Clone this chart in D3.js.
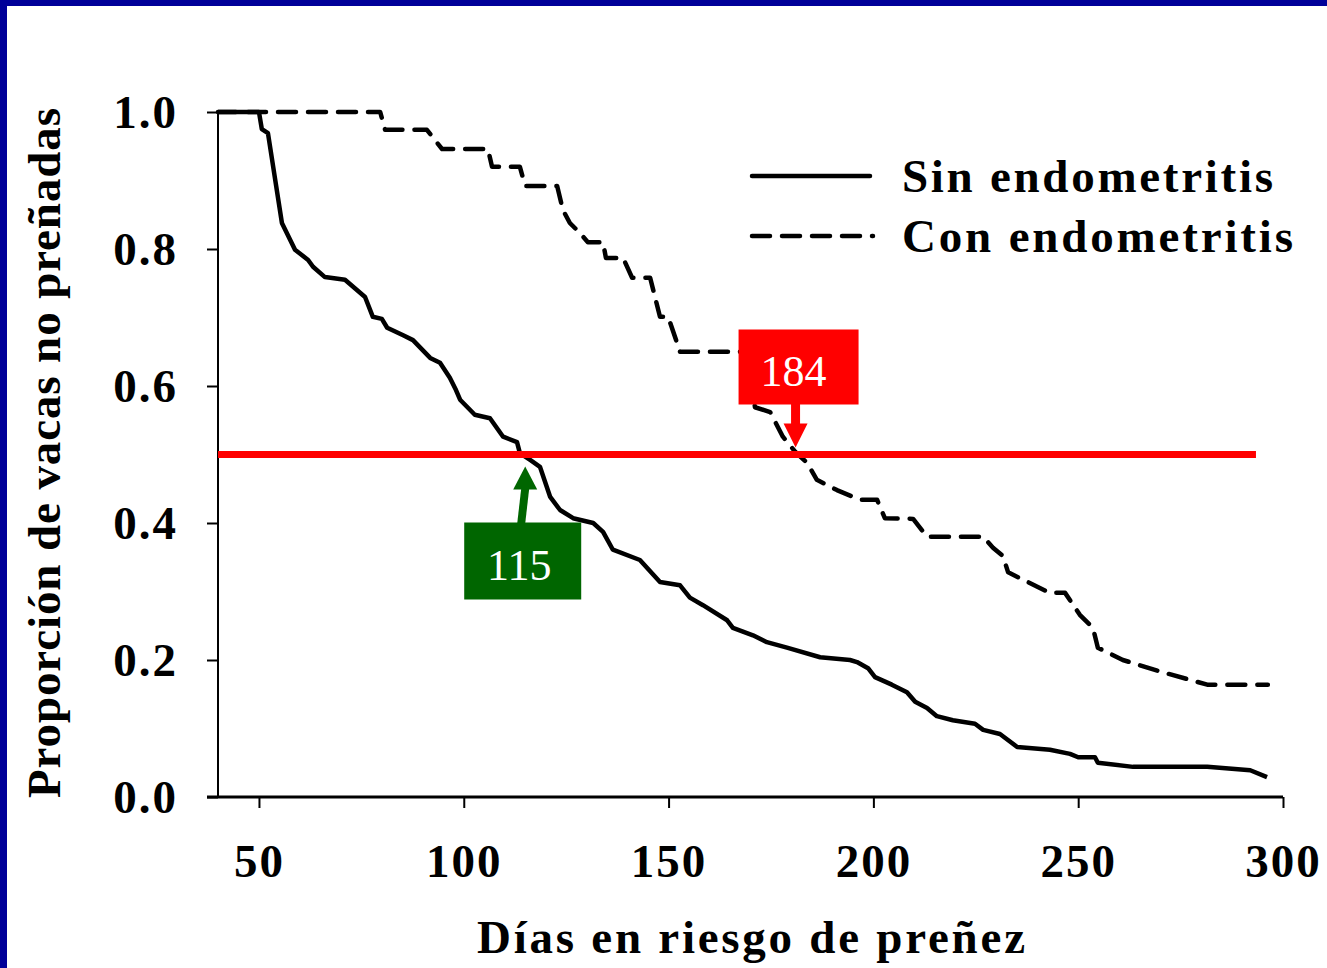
<!DOCTYPE html>
<html lang="es">
<head>
<meta charset="UTF-8" />
<title>Proporción de vacas no preñadas</title>
<script src="https://d3js.org/d3.v7.js"></script>
<style>
    body { margin: 0; background: #fff; }
    svg { display: block; }
    text { font-family: "Liberation Serif", "Times New Roman", serif; }
</style>
</head>
<body>
<script>
    var w = 1327;
    var h = 968;

    // Sin endometritis (solid line)
    var sinDias = [40, 50, 50.7, 52.2, 55.6, 58.8, 62, 63.2, 66.1, 71, 75.9, 77.8, 80, 81.3, 85.2, 87.6,
        91.8, 94.2, 96.6, 98.1, 99.1, 102.7, 106.4, 109.6, 113, 113.7, 116.2, 118.6, 121.1, 123.5, 126.7,
        131.6, 134, 136.4, 143, 147.9, 152.8, 155.2, 158.4, 164.3, 165.7, 170.6, 174, 178.9, 187, 194.3,
        196, 198.7, 200.4, 204.5, 208.2, 210.2, 213.1, 215.5, 219.4, 224.8, 226.8, 230.9, 235.1, 243.1,
        248, 250, 254.1, 254.8, 263.4, 281.5, 292, 296.1];
    var sinProp = [1.0, 1.0, 0.975, 0.969, 0.838, 0.799, 0.784, 0.774, 0.759, 0.755, 0.730, 0.701, 0.698, 0.685, 0.674, 0.667,
        0.641, 0.634, 0.612, 0.594, 0.580, 0.558, 0.553, 0.526, 0.518, 0.502, 0.492, 0.482, 0.438, 0.419, 0.407,
        0.400, 0.387, 0.361, 0.346, 0.314, 0.309, 0.291, 0.280, 0.258, 0.247, 0.236, 0.226, 0.218, 0.204, 0.200,
        0.197, 0.188, 0.175, 0.164, 0.153, 0.139, 0.130, 0.118, 0.112, 0.107, 0.098, 0.092, 0.073, 0.069,
        0.063, 0.058, 0.058, 0.050, 0.044, 0.044, 0.039, 0.029];

    // Con endometritis (dashed line)
    var conDias = [40, 79.6, 80.8, 91, 93.5, 94.7, 105.9, 106.9, 113.7, 115, 122.8, 124.2, 125.9, 128.4, 130.3,
        134, 134.7, 138.9, 141.1, 145.5, 147.9, 149.9, 152.8, 168.7, 171.1, 174.8, 177.9, 180.9, 183.8, 186.2,
        191.1, 196.7, 200.9, 202.8, 209.7, 213.1, 226.8, 229.2, 231.6, 232.9, 243.1, 246.8, 250.4, 253.6,
        254.8, 260.9, 270.7, 281.5, 296.3];
    var conProp = [1.0, 1.0, 0.974, 0.974, 0.955, 0.946, 0.946, 0.920, 0.920, 0.892, 0.892, 0.857, 0.838, 0.823, 0.810,
        0.810, 0.787, 0.787, 0.758, 0.758, 0.701, 0.701, 0.650, 0.650, 0.569, 0.562, 0.526, 0.504, 0.488, 0.463,
        0.448, 0.434, 0.434, 0.407, 0.406, 0.380, 0.380, 0.364, 0.352, 0.328, 0.298, 0.298, 0.266, 0.247,
        0.218, 0.200, 0.182, 0.164, 0.164];

    var xTicks = [50, 100, 150, 200, 250, 300];
    var yTicks = [0, 0.2, 0.4, 0.6, 0.8, 1.0];

    // median line and the two labelled arrows
    var medianProp = 0.5;
    var medianDias = [40, 293.4];
    var annotDias = [115, 181];
    var annotLabels = ["115", "184"];

    var svg = d3.select("body")
                .append("svg")
                .attr("width", w)
                .attr("height", h);

    // blue frame on top and left
    svg.append("rect").attr("x", 0).attr("y", 0).attr("width", w).attr("height", 6).attr("fill", "#000099");
    svg.append("rect").attr("x", 0).attr("y", 0).attr("width", 7).attr("height", h).attr("fill", "#000099");

    var xScale = d3.scaleLinear()
        .domain([40, 300])
        .range([218, 1283]);

    var yScale = d3.scaleLinear()
        .domain([0, 1])
        .range([797, 112]);

    // y axis
    var yAxis = d3.axisLeft(yScale)
        .tickValues(yTicks)
        .tickSize(11)
        .tickFormat(d3.format(".1f"));
    var gy = svg.append("g")
        .attr("transform", "translate(" + xScale(40) + ",0)")
        .call(yAxis);
    gy.select(".domain").attr("stroke-width", 2).attr("d", "M0," + yScale(1) + "V" + yScale(0));
    gy.selectAll(".tick line").attr("stroke-width", 2);
    gy.selectAll(".tick text")
        .attr("x", -40)
        .attr("dy", "0.34em")
        .style("font-size", "47px")
        .style("font-weight", "bold")
        .style("letter-spacing", "2px")
        .attr("fill", "#000");

    // x axis
    var xAxis = d3.axisBottom(xScale)
        .tickValues(xTicks)
        .tickSize(11);
    var gx = svg.append("g")
        .attr("transform", "translate(0," + yScale(0) + ")")
        .call(xAxis);
    gx.select(".domain").attr("stroke-width", 3).attr("d", "M" + (xScale(40) - 11) + ",0H" + xScale(300));
    gx.selectAll(".tick line").attr("stroke-width", 2);
    gx.selectAll(".tick text")
        .attr("y", 80)
        .attr("dy", 0)
        .style("font-size", "47px")
        .style("font-weight", "bold")
        .style("letter-spacing", "2px")
        .attr("fill", "#000");

    // axis titles
    svg.append("text")
        .attr("x", 751)
        .attr("y", 953)
        .attr("text-anchor", "middle")
        .attr("textLength", 548)
        .attr("lengthAdjust", "spacing")
        .style("font-size", "47px")
        .style("font-weight", "bold")
        .text("Días en riesgo de preñez");

    svg.append("text")
        .attr("transform", "translate(60,453) rotate(-90)")
        .attr("text-anchor", "middle")
        .attr("textLength", 690)
        .attr("lengthAdjust", "spacing")
        .style("font-size", "47px")
        .style("font-weight", "bold")
        .text("Proporción de vacas no preñadas");

    var line = d3.line()
        .x(function(d){ return xScale(d[0]); })
        .y(function(d){ return yScale(d[1]); });

    var sinData = sinDias.map(function(d, i){ return [d, sinProp[i]]; });
    var conData = conDias.map(function(d, i){ return [d, conProp[i]]; });

    svg.append("path")
        .datum(conData)
        .attr("d", line)
        .attr("fill", "none")
        .attr("stroke", "#000")
        .attr("stroke-width", 4.5)
        .attr("stroke-linecap", "round")
        .attr("stroke-linejoin", "round")
        .attr("stroke-dasharray", "18,12");

    svg.append("path")
        .datum(sinData)
        .attr("d", line)
        .attr("fill", "none")
        .attr("stroke", "#000")
        .attr("stroke-width", 4.5)
        .attr("stroke-linejoin", "round");

    // median line
    svg.append("line")
        .attr("x1", xScale(medianDias[0]))
        .attr("x2", xScale(medianDias[1]))
        .attr("y1", yScale(medianProp))
        .attr("y2", yScale(medianProp))
        .attr("stroke", "#ff0000")
        .attr("stroke-width", 7);

    // green arrow + box (115), pointing up
    var gX = xScale(annotDias[0]), gY = yScale(medianProp) + 12;
    svg.append("path")
        .attr("d", "M" + (gX - 4) + "," + (gY + 22) + "L" + (gX - 8) + "," + (gY + 57) + "L" + (gX) + "," + (gY + 57) + "L" + (gX + 4) + "," + (gY + 22) + "Z")
        .attr("fill", "#006600");
    svg.append("path")
        .attr("d", "M" + gX + "," + gY + "L" + (gX + 12) + "," + (gY + 23) + "L" + (gX - 12) + "," + (gY + 23) + "Z")
        .attr("fill", "#006600");
    svg.append("rect")
        .attr("x", gX - 61).attr("y", gY + 56)
        .attr("width", 117).attr("height", 77)
        .attr("fill", "#006600");
    svg.append("text")
        .attr("x", gX - 6).attr("y", gY + 113)
        .attr("text-anchor", "middle")
        .attr("fill", "#fff")
        .style("font-size", "44px")
        .text(annotLabels[0]);

    // red arrow + box (184), pointing down
    var rX = xScale(annotDias[1]), rY = yScale(medianProp) - 7;
    svg.append("rect")
        .attr("x", rX - 4.5).attr("y", rY - 44)
        .attr("width", 9).attr("height", 22)
        .attr("fill", "#ff0000");
    svg.append("path")
        .attr("d", "M" + rX + "," + rY + "L" + (rX - 12) + "," + (rY - 24) + "L" + (rX + 12) + "," + (rY - 24) + "Z")
        .attr("fill", "#ff0000");
    svg.append("rect")
        .attr("x", rX - 57).attr("y", rY - 118)
        .attr("width", 120).attr("height", 75)
        .attr("fill", "#ff0000");
    svg.append("text")
        .attr("x", rX - 2).attr("y", rY - 62)
        .attr("text-anchor", "middle")
        .attr("fill", "#fff")
        .style("font-size", "44px")
        .text(annotLabels[1]);

    // legend
    var legend = svg.append("g");
    var legendNames = ["Sin endometritis", "Con endometritis"];
    var legendLen = [371, 391];
    legendNames.forEach(function(name, i){
        var y = 176 + i * 60;
        legend.append("line")
            .attr("x1", 752).attr("x2", i == 1 ? 873 : 870)
            .attr("y1", y).attr("y2", y)
            .attr("stroke", "#000")
            .attr("stroke-width", 4.5)
            .attr("stroke-linecap", "round")
            .attr("stroke-dasharray", i == 1 ? "18,12" : null);
        legend.append("text")
            .attr("x", 902).attr("y", y + 16)
            .attr("textLength", legendLen[i])
            .attr("lengthAdjust", "spacing")
            .style("font-size", "47px")
            .style("font-weight", "bold")
            .text(name);
    });
</script>
</body>
</html>
